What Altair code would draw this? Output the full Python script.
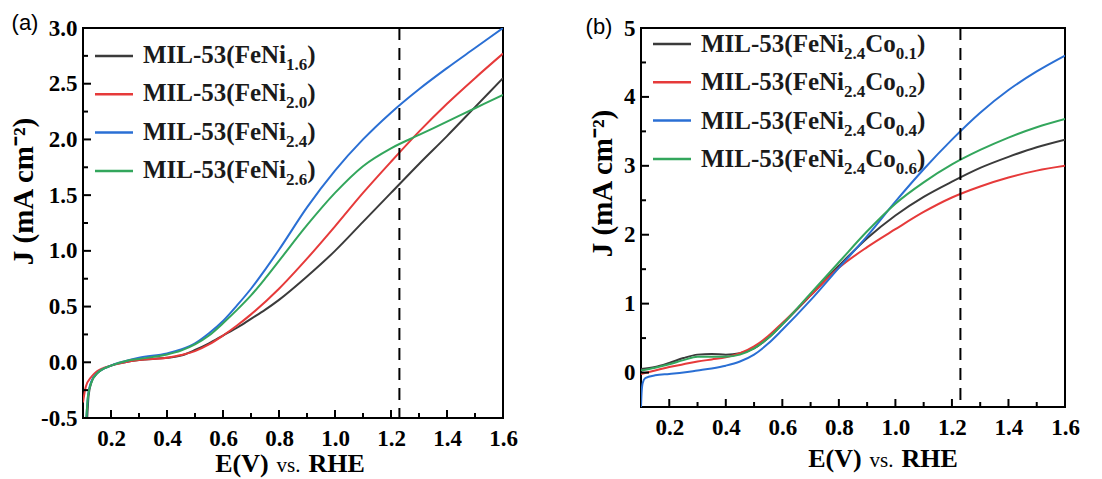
import altair as alt
import pandas as pd

# ---------------- Panel (a) data ----------------
a_series = ["MIL-53(FeNi1.6)", "MIL-53(FeNi2.0)", "MIL-53(FeNi2.4)", "MIL-53(FeNi2.6)"]
a_subs = ["1.6", "2.0", "2.4", "2.6"]
a_colors = ["#3b3b3b", "#e63a3a", "#2a6fd4", "#33a65c"]

a_black_E = [0.115, 0.12, 0.13, 0.15, 0.2, 0.25, 0.3, 0.4, 0.45, 0.5, 0.55, 0.6, 0.65, 0.7, 0.75, 0.8, 0.9, 1.0, 1.1, 1.2, 1.3, 1.4, 1.5, 1.6]
a_black_J = [-0.5, -0.3, -0.18, -0.1, -0.03, 0.0, 0.02, 0.04, 0.06, 0.11, 0.17, 0.24, 0.31, 0.39, 0.47, 0.56, 0.77, 1.0, 1.26, 1.52, 1.78, 2.03, 2.29, 2.55]

a_red_E = [0.1, 0.11, 0.13, 0.15, 0.2, 0.25, 0.3, 0.4, 0.45, 0.5, 0.55, 0.6, 0.65, 0.7, 0.8, 0.9, 1.0, 1.1, 1.2, 1.3, 1.4, 1.5, 1.6]
a_red_J = [-0.36, -0.22, -0.13, -0.08, -0.03, 0.0, 0.02, 0.04, 0.065, 0.1, 0.16, 0.24, 0.33, 0.43, 0.66, 0.93, 1.22, 1.52, 1.8, 2.07, 2.32, 2.55, 2.77]

a_blue_E = [0.112, 0.118, 0.13, 0.15, 0.2, 0.25, 0.3, 0.4, 0.45, 0.5, 0.55, 0.6, 0.65, 0.7, 0.75, 0.8, 0.9, 1.0, 1.1, 1.2, 1.3, 1.4, 1.5, 1.6]
a_blue_J = [-0.5, -0.3, -0.17, -0.1, -0.03, 0.01, 0.04, 0.08, 0.115, 0.17, 0.26, 0.37, 0.51, 0.66, 0.83, 1.01, 1.39, 1.72, 2.0, 2.24, 2.45, 2.64, 2.82, 3.0]

a_green_E = [0.112, 0.118, 0.13, 0.15, 0.2, 0.25, 0.3, 0.4, 0.45, 0.5, 0.55, 0.6, 0.65, 0.7, 0.75, 0.8, 0.9, 1.0, 1.1, 1.2, 1.3, 1.4, 1.5, 1.6]
a_green_J = [-0.5, -0.3, -0.18, -0.1, -0.03, 0.01, 0.03, 0.07, 0.105, 0.16, 0.24, 0.35, 0.47, 0.6, 0.75, 0.91, 1.23, 1.52, 1.76, 1.92, 2.04, 2.16, 2.28, 2.40]

a_x_major = [0.2, 0.4, 0.6, 0.8, 1.0, 1.2, 1.4, 1.6]
a_x_minor = [0.3, 0.5, 0.7, 0.9, 1.1, 1.3, 1.5]
a_y_major = [-0.5, 0.0, 0.5, 1.0, 1.5, 2.0, 2.5, 3.0]
a_y_minor = [-0.25, 0.25, 0.75, 1.25, 1.75, 2.25, 2.75]

# ---------------- Panel (b) data ----------------
b_series = ["MIL-53(FeNi2.4Co0.1)", "MIL-53(FeNi2.4Co0.2)", "MIL-53(FeNi2.4Co0.4)", "MIL-53(FeNi2.4Co0.6)"]
b_subs = ["0.1", "0.2", "0.4", "0.6"]
b_colors = ["#3b3b3b", "#e63a3a", "#2a6fd4", "#33a65c"]

b_E = [0.1, 0.15, 0.2, 0.25, 0.3, 0.35, 0.4, 0.45, 0.5, 0.55, 0.6, 0.7, 0.8, 0.9, 1.0, 1.1, 1.2, 1.3, 1.4, 1.5, 1.6]
b_black_J = [0.05, 0.08, 0.14, 0.21, 0.26, 0.27, 0.26, 0.28, 0.35, 0.5, 0.7, 1.12, 1.55, 1.95, 2.28, 2.55, 2.77, 2.97, 3.13, 3.27, 3.38]
b_red_J = [-0.02, 0.03, 0.08, 0.12, 0.16, 0.19, 0.22, 0.28, 0.38, 0.53, 0.72, 1.12, 1.52, 1.82, 2.08, 2.33, 2.54, 2.7, 2.83, 2.93, 3.0]
b_green_J = [0.03, 0.07, 0.12, 0.18, 0.23, 0.23, 0.23, 0.26, 0.35, 0.5, 0.7, 1.15, 1.6, 2.05, 2.45, 2.76, 3.02, 3.23, 3.41, 3.56, 3.68]
b_blue_E = [0.1, 0.102, 0.106, 0.115, 0.15, 0.2, 0.25, 0.3, 0.35, 0.4, 0.45, 0.5, 0.55, 0.6, 0.7, 0.8, 0.9, 1.0, 1.1, 1.2, 1.3, 1.4, 1.5, 1.6]
b_blue_J = [-0.5, -0.3, -0.15, -0.08, -0.04, -0.02, 0.0, 0.03, 0.06, 0.1, 0.16, 0.26, 0.42, 0.62, 1.05, 1.52, 1.98, 2.48, 2.95, 3.38, 3.77, 4.1, 4.37, 4.6]

b_x_major = [0.2, 0.4, 0.6, 0.8, 1.0, 1.2, 1.4, 1.6]
b_x_minor = [0.3, 0.5, 0.7, 0.9, 1.1, 1.3, 1.5]
b_y_major = [0, 1, 2, 3, 4, 5]
b_y_minor = [0.5, 1.5, 2.5, 3.5, 4.5]

ref_E = 1.23

SERIF = "Liberation Serif"

# Times/Liberation Serif advance widths (per 1000 em) for measuring text runs
BOLD_W = {"M": 944, "I": 389, "L": 667, "-": 333, "(": 333, ")": 333, "F": 611, "e": 444,
          "N": 722, "i": 278, "C": 722, "o": 500, ".": 250, "E": 667, "V": 722, "R": 722,
          "H": 778, " ": 250}
REG_W = {"v": 500, "s": 389, ".": 250, " ": 250}


def text_w(s, size, bold=True):
    tbl = BOLD_W if bold else REG_W
    return sum(tbl.get(c, 500) for c in s) * size / 1000.0


def long_df(series, pairs):
    rows = []
    for name, (es, js) in zip(series, pairs):
        for e, j in zip(es, js):
            rows.append({"series": name, "E": e, "J": j})
    return pd.DataFrame(rows)


def txt(s, x, y, size, bold=True, align="left", font=SERIF, color="black"):
    return alt.Chart(pd.DataFrame({"t": [s]})).mark_text(
        font=font, fontSize=size, fontWeight="bold" if bold else "normal",
        align=align, baseline="alphabetic", color=color).encode(
        x=alt.value(x), y=alt.value(y), text="t:N")


def legend_layers(runs_per_row, colors, y0, step, sym_dy):
    layers = []
    for i, (runs, col) in enumerate(zip(runs_per_row, colors)):
        base = y0 + i * step
        layers.append(alt.Chart(pd.DataFrame({"t": [i]})).mark_rule(
            color=col, strokeWidth=2.5).encode(
            x=alt.value(12), x2=alt.value(50), y=alt.value(base - sym_dy)))
        cx = 60.0
        for s, sub in runs:
            size = 17 if sub else 25
            layers.append(txt(s, cx, base + (7 if sub else 0), size, color="#1a1a1a"))
            cx += text_w(s, size)
    return layers


def xtitle_layers(cx, y):
    parts = [("E(V)", 26, True), ("vs.", 21, False), ("RHE", 26, True)]
    gap = 8
    total = sum(text_w(s, sz, b) for s, sz, b in parts) + gap * 2
    x = cx - total / 2
    out = []
    for s, sz, b in parts:
        out.append(txt(s, x, y, sz, bold=b))
        x += text_w(s, sz, b) + gap
    return out


def panel(df, series, colors, xdom, ydom, w, h, xmajor, xminor, ymajor, yminor,
          ylabel_expr, ytitle_y, ytitle_pad, xtitle_x, xtitle_y, leg_runs, leg_y0, sym_dy,
          plabel, plx, ply):
    xs = alt.Scale(domain=xdom, nice=False, zero=False)
    ys = alt.Scale(domain=ydom, nice=False, zero=False)
    x_axis = alt.Axis(
        values=xmajor, labelExpr="format(datum.value, '.1f')", ticks=False, domain=False,
        grid=False, labelFont=SERIF, labelFontWeight="bold", labelFontSize=23,
        labelColor="black", labelPadding=9, labelFlush=False, title=None,
    )
    y_axis = alt.Axis(
        values=ymajor, labelExpr=ylabel_expr, ticks=False, domain=False, grid=False,
        labelFont=SERIF, labelFontWeight="bold", labelFontSize=23, labelColor="black",
        labelPadding=6, labelFlush=False,
        title="J (mA cm⁻²)", titleFont=SERIF, titleFontWeight="bold", titleFontSize=29,
        titleColor="black", titlePadding=ytitle_pad, titleY=ytitle_y,
    )
    X = lambda: alt.X("E:Q", scale=xs, axis=x_axis)
    Y = lambda: alt.Y("J:Q", scale=ys, axis=y_axis)
    lines = alt.Chart(df).mark_line(strokeWidth=2, interpolate="monotone", clip=True).encode(
        x=X(), y=Y(),
        color=alt.Color("series:N", scale=alt.Scale(domain=series, range=colors), legend=None),
    )
    dash = alt.Chart(pd.DataFrame({"E": [ref_E]})).mark_rule(
        strokeDash=[12, 8], color="black", strokeWidth=2).encode(x=X())
    xt = alt.Chart(pd.DataFrame({"E": xmajor})).mark_rule(color="black", strokeWidth=2).encode(
        x=X(), y=alt.value(h), y2=alt.value(h - 8))
    xtm = alt.Chart(pd.DataFrame({"E": xminor})).mark_rule(color="black", strokeWidth=2).encode(
        x=X(), y=alt.value(h), y2=alt.value(h - 5))
    yt = alt.Chart(pd.DataFrame({"J": ymajor})).mark_rule(color="black", strokeWidth=2).encode(
        y=Y(), x=alt.value(0), x2=alt.value(8))
    ytm = alt.Chart(pd.DataFrame({"J": yminor})).mark_rule(color="black", strokeWidth=2).encode(
        y=Y(), x=alt.value(0), x2=alt.value(5))
    lab = alt.Chart(pd.DataFrame({"t": [plabel]})).mark_text(
        font="Liberation Sans", fontSize=22, align="center", baseline="middle", color="black").encode(
        x=alt.value(plx), y=alt.value(ply), text="t:N")
    extra = legend_layers(leg_runs, colors, leg_y0, 38.3, sym_dy) + xtitle_layers(xtitle_x, xtitle_y)
    return alt.layer(lines, dash, xt, xtm, yt, ytm, lab, *extra).properties(width=w, height=h)


df_a = long_df(a_series, [(a_black_E, a_black_J), (a_red_E, a_red_J),
                          (a_blue_E, a_blue_J), (a_green_E, a_green_J)])
df_b = long_df(b_series, [(b_E, b_black_J), (b_E, b_red_J),
                          (b_blue_E, b_blue_J), (b_E, b_green_J)])

a_runs = [[("MIL-53(FeNi", False), (s, True), (")", False)] for s in a_subs]
b_runs = [[("MIL-53(FeNi", False), ("2.4", True), ("Co", False), (s, True), (")", False)] for s in b_subs]

neg_expr = "datum.value < 0 ? '-' + format(-datum.value, '.1f') : format(datum.value, '.1f')"

pa = panel(df_a, a_series, a_colors, [0.1, 1.6], [-0.5, 3.0], 420, 390,
           a_x_major, a_x_minor, a_y_major, a_y_minor, neg_expr, 163, 2, 207, 444,
           a_runs, 35, 7, "(a)", -58, -5)
pb = panel(df_b, b_series, b_colors, [0.1, 1.6], [-0.5, 5.0], 424, 379,
           b_x_major, b_x_minor, b_y_major, b_y_minor, "format(datum.value, 'd')", 155, 6, 242, 439,
           b_runs, 24, 8, "(b)", -42, -1)

chart = alt.hconcat(pa, pb, spacing=65).resolve_scale(color="independent").properties(
    padding={"left": 0, "top": 3, "right": 2, "bottom": 0}
).configure_view(stroke="black", strokeWidth=2)

chart.save("out.html", embed_options={"renderer": "svg", "actions": False})
